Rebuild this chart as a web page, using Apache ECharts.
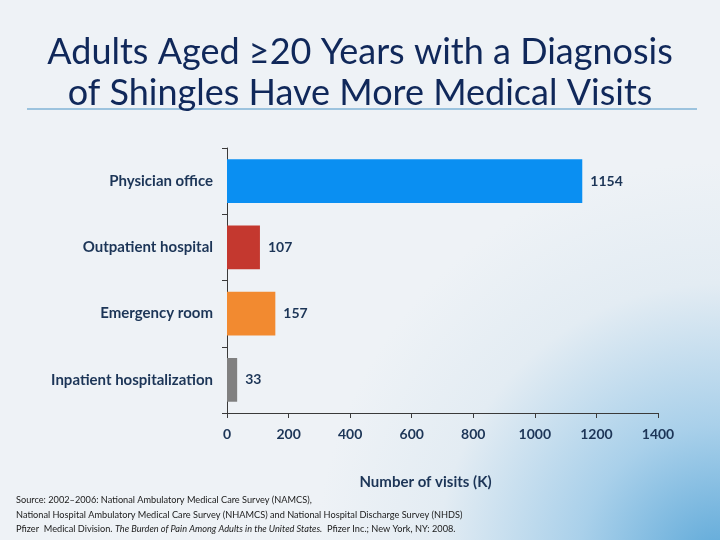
<!DOCTYPE html>
<html>
<head>
<meta charset="utf-8">
<script src="https://cdn.jsdelivr.net/npm/echarts@6/dist/echarts.min.js"></script>
<style>
html,body{margin:0;padding:0;background:#eef2f6;}
#c{width:720px;height:540px;}
</style>
</head>
<body>
<div id="c"></div>
<script>
const categories = ['Physician office', 'Outpatient hospital', 'Emergency room', 'Inpatient hospitalization'];
const visits = [1154, 107, 157, 33];
const barColors = ['#0a8ff2', '#c4382f', '#f28a30', '#808080'];
const xTicks = [0, 200, 400, 600, 800, 1000, 1200, 1400];

const chart = echarts.init(document.getElementById('c'));
const font = 'Lato, "Open Sans", sans-serif';
chart.setOption({
  backgroundColor: {
    type: 'radial', x: 1.0, y: 1.05, r: 0.75,
    colorStops: [
      {offset: 0, color: '#5aa7d8'},
      {offset: 0.35, color: '#a9d0ea'},
      {offset: 0.7, color: '#e3ecf3'},
      {offset: 1, color: '#eef2f6'}
    ]
  },
  animation: false,
  title: {
    text: 'Adults Aged ≥20 Years with a Diagnosis\nof Shingles Have More Medical Visits',
    left: 'center', top: 27,
    textStyle: {fontFamily: font, fontWeight: 'normal', fontSize: 36, lineHeight: 41, color: '#10285a'}
  },
  graphic: [
    {type: 'line', shape: {x1: 27, y1: 109, x2: 697, y2: 109}, style: {stroke: '#9cc3de', lineWidth: 2}},
    {type: 'text', left: 16, top: 496, style: {
      text: '{n|Source: 2002–2006: National Ambulatory Medical Care Survey (NAMCS),}\n{n|National Hospital Ambulatory Medical Care Survey (NHAMCS) and National Hospital Discharge Survey (NHDS)}\n{n|Pfizer  Medical Division. }{i|The Burden of Pain Among Adults in the United States.}{n|  Pfizer Inc.; New York, NY: 2008.}',
      rich: {
        n: {fontFamily: font, fontSize: 9.2, fill: '#1a1a1a', lineHeight: 14.5},
        i: {fontFamily: font, fontSize: 9.2, fontStyle: 'italic', fill: '#1a1a1a', lineHeight: 14.5}
      }
    }}
  ],
  grid: {left: 227, right: 62, top: 148, bottom: 127, containLabel: false},
  xAxis: {
    type: 'value', min: 0, max: 1400, interval: 200,
    splitLine: {show: false},
    axisLine: {show: true, lineStyle: {color: '#3a3a3a', width: 1}},
    axisTick: {show: true, length: 5, lineStyle: {color: '#3a3a3a'}},
    axisLabel: {margin: 14, fontFamily: font, fontWeight: 'bold', fontSize: 14, color: '#1c3557',
      formatter: v => xTicks.includes(v) ? String(v) : ''},
    name: 'Number of visits (K)', nameLocation: 'middle', nameGap: 62,
    nameTextStyle: {fontFamily: font, fontWeight: 'bold', fontSize: 15, color: '#1c3557', padding: [0, 34, 0, 0]}
  },
  yAxis: {
    type: 'category', data: categories, inverse: true,
    axisLine: {show: true, lineStyle: {color: '#3a3a3a', width: 1}},
    axisTick: {show: true, length: 5, lineStyle: {color: '#3a3a3a'}},
    axisLabel: {margin: 14, fontFamily: font, fontWeight: 'bold', fontSize: 15, color: '#1c3557'}
  },
  series: [{
    type: 'bar', barWidth: '66%',
    data: visits.map((v, i) => ({value: v, itemStyle: {color: barColors[i]}})),
    label: {show: true, position: 'right', distance: 8, fontFamily: font, fontWeight: 'bold', fontSize: 14, color: '#1c3557'}
  }]
});
</script>
</body>
</html>
